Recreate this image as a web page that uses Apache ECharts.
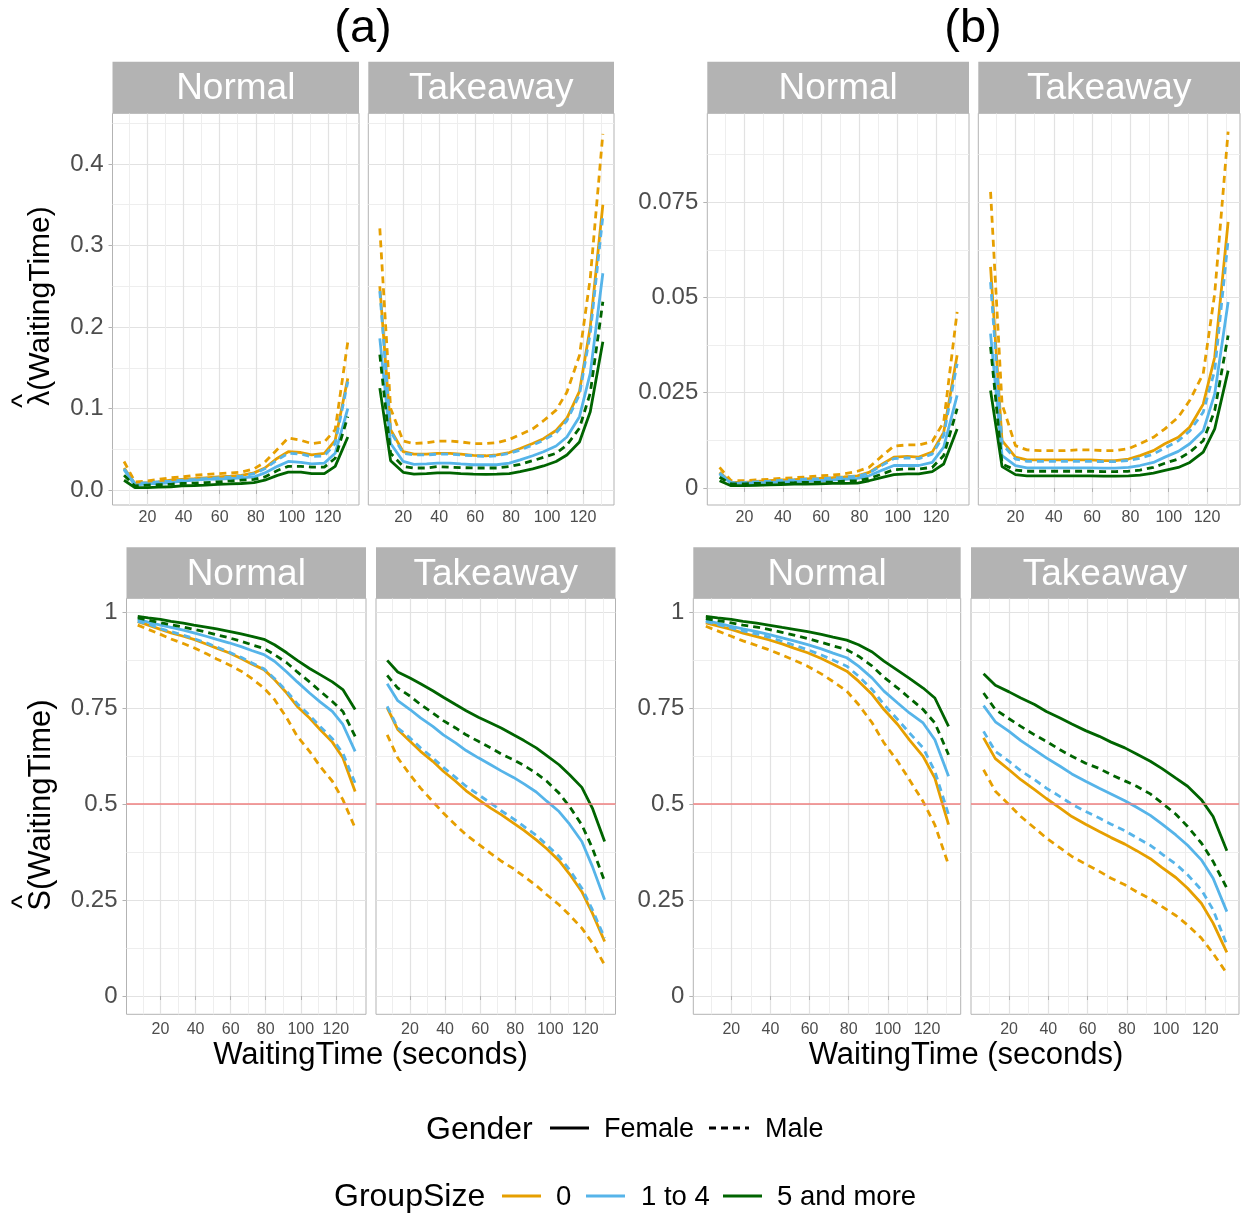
<!DOCTYPE html>
<html>
<head>
<meta charset="utf-8">
<script src="https://cdn.jsdelivr.net/npm/echarts@6/dist/echarts.min.js"></script>
<style>
  html, body { margin: 0; padding: 0; background: #ffffff; }
  #chart { width: 1245px; height: 1218px; }
</style>
</head>
<body>
<div id="chart"></div>
<script>
// ---- data ----------------------------------------------------------------
const waitingTime = [7, 13, 20, 26, 33, 39, 46, 52, 59, 66, 72, 79, 85, 92, 98, 105, 111, 118, 124, 131];
const groupSizes = ['0', '1 to 4', '5 and more'];
const genders = ['Female', 'Male'];
const facetLabels = ['Normal', 'Takeaway'];

const xTicks = [20, 40, 60, 80, 100, 120];
const xMinorTicks = [10, 30, 50, 70, 90, 110, 130];
const hazardTicksA = [0, 0.1, 0.2, 0.3, 0.4];
const hazardMinorA = [0.05, 0.15, 0.25, 0.35, 0.45];
const hazardTicksB = [0, 0.025, 0.05, 0.075];
const hazardMinorB = [0.0125, 0.0375, 0.0625, 0.0875];
const survivalTicks = [0, 0.25, 0.5, 0.75, 1];
const survivalMinor = [0.125, 0.375, 0.625, 0.875];
const medianLevel = 0.5;

// Row order in every panel: [0 Female, 0 Male, 1 to 4 Female, 1 to 4 Male, 5+ Female, 5+ Male]
const hazardA_Normal = [
  [.027, .008, .009, .010, .012, .013, .014, .015, .016, .017, .018, .021, .027, .039, .047, .046, .043, .045, .061, .137],
  [.035, .010, .011, .013, .015, .016, .018, .019, .020, .021, .022, .026, .034, .050, .064, .061, .057, .059, .074, .182],
  [.025, .006, .0074, .008, .009, .011, .012, .013, .0135, .014, .015, .016, .021, .029, .035, .034, .032, .033, .045, .100],
  [.026, .008, .009, .010, .011, .012, .013, .014, .015, .016, .017, .020, .026, .037, .045, .044, .041, .042, .057, .133],
  [.012, .003, .003, .0035, .004, .005, .0055, .006, .007, .0075, .008, .009, .012, .018, .022, .022, .020, .020, .029, .065],
  [.018, .005, .006, .0065, .007, .008, .0085, .009, .010, .011, .012, .013, .016, .024, .029, .029, .028, .028, .039, .090]
];
const hazardA_Takeaway = [
  [.250, .074, .047, .044, .044, .045, .045, .044, .0425, .042, .043, .046, .051, .057, .063, .073, .088, .121, .200, .350],
  [.321, .100, .060, .057, .058, .060, .060, .059, .057, .057, .058, .062, .068, .075, .085, .098, .120, .165, .260, .437],
  [.186, .057, .035, .0315, .032, .033, .033, .032, .031, .031, .031, .033, .037, .042, .047, .054, .065, .090, .143, .266],
  [.244, .072, .045, .043, .043, .044, .044, .043, .042, .041, .042, .045, .049, .055, .061, .070, .085, .117, .192, .336],
  [.125, .036, .0217, .0196, .020, .021, .021, .020, .0195, .0192, .0195, .020, .0225, .026, .0295, .035, .043, .059, .096, .182],
  [.166, .045, .029, .027, .027, .0287, .028, .0275, .027, .027, .027, .0287, .0315, .036, .040, .045, .055, .076, .119, .231]
];
const survivalA_Normal = [
  [.976, .967, .956, .947, .938, .930, .918, .907, .895, .880, .866, .851, .825, .790, .755, .725, .695, .662, .621, .533],
  [.967, .956, .943, .931, .919, .908, .893, .879, .864, .847, .828, .803, .773, .725, .677, .638, .599, .560, .512, .438],
  [.982, .975, .967, .961, .954, .947, .938, .930, .921, .911, .901, .890, .873, .845, .819, .790, .767, .742, .708, .638],
  [.977, .970, .958, .950, .941, .932, .921, .910, .897, .883, .869, .853, .828, .795, .762, .732, .703, .671, .633, .555],
  [.990, .986, .982, .977, .972, .967, .962, .957, .951, .944, .938, .930, .916, .895, .875, .854, .838, .819, .799, .747],
  [.986, .980, .973, .968, .962, .956, .949, .942, .934, .925, .916, .906, .890, .869, .845, .819, .795, .768, .742, .677]
];
const survivalA_Takeaway = [
  [.751, .695, .664, .638, .612, .586, .560, .535, .512, .490, .473, .451, .432, .407, .384, .353, .318, .272, .216, .142],
  [.681, .621, .577, .542, .507, .477, .446, .420, .396, .372, .352, .332, .312, .288, .264, .238, .211, .177, .138, .081],
  [.814, .770, .747, .725, .703, .681, .660, .640, .621, .603, .587, .570, .553, .532, .508, .481, .448, .403, .338, .251],
  [.755, .699, .673, .647, .621, .596, .570, .547, .525, .503, .483, .462, .442, .419, .394, .364, .329, .281, .225, .151],
  [.875, .845, .829, .814, .796, .779, .760, .744, .727, .712, .699, .681, .666, .647, .627, .603, .577, .544, .490, .403],
  [.836, .803, .782, .760, .738, .718, .699, .681, .664, .647, .631, .616, .601, .581, .560, .529, .494, .446, .386, .299]
];
const hazardB_Normal = [
  [.0041, .0015, .0015, .0017, .0019, .0021, .0022, .0024, .0025, .0027, .0029, .0032, .0041, .0063, .0081, .0083, .0081, .0094, .0146, .0348],
  [.0054, .0019, .0019, .0021, .0023, .0025, .0027, .0029, .0032, .0034, .0037, .0044, .0054, .0085, .0110, .0113, .0113, .0122, .0173, .0462],
  [.0037, .0013, .0013, .0014, .0015, .0016, .0017, .0018, .0019, .0021, .0023, .0025, .0032, .0047, .0059, .0059, .0059, .0067, .0107, .0243],
  [.0039, .0014, .0014, .0016, .0018, .0020, .0021, .0023, .0024, .0026, .0028, .0031, .0039, .0060, .0077, .0079, .0077, .0089, .0138, .0326],
  [.0019, .0006, .0006, .0007, .0008, .0009, .0010, .0010, .0011, .0012, .0012, .0013, .0019, .0028, .0035, .0037, .0037, .0043, .0063, .0155],
  [.0028, .0011, .0011, .0012, .0013, .0013, .0014, .0015, .0015, .0016, .0018, .0019, .0025, .0037, .0048, .0050, .0050, .0054, .0085, .0208]
];
const hazardB_Takeaway = [
  [.0580, .0124, .0081, .0074, .0074, .0074, .0074, .0074, .0074, .0072, .0072, .0076, .0085, .0098, .0116, .0133, .0160, .0220, .0343, .0698],
  [.0777, .0220, .0111, .0100, .0098, .0098, .0098, .0100, .0100, .0098, .0098, .0103, .0116, .0133, .0155, .0186, .0230, .0300, .0510, .0935],
  [.0405, .0085, .0059, .0053, .0053, .0053, .0053, .0053, .0053, .0052, .0052, .0054, .0059, .0067, .0081, .0096, .0116, .0150, .0247, .0488],
  [.0540, .0116, .0076, .0070, .0070, .0070, .0070, .0070, .0070, .0069, .0069, .0072, .0078, .0089, .0105, .0124, .0150, .0199, .0308, .0650],
  [.0256, .0056, .0035, .0032, .0032, .0032, .0032, .0032, .0032, .0031, .0031, .0032, .0034, .0039, .0046, .0054, .0067, .0094, .0155, .0308],
  [.0370, .0063, .0047, .0044, .0044, .0044, .0044, .0044, .0044, .0043, .0043, .0044, .0047, .0054, .0065, .0076, .0094, .0124, .0203, .0400]
];
const survivalB_Normal = [
  [.973, .965, .956, .946, .937, .929, .918, .907, .895, .880, .865, .847, .821, .786, .747, .708, .668, .625, .568, .447],
  [.964, .952, .938, .926, .914, .903, .889, .876, .860, .840, .820, .795, .760, .712, .660, .612, .564, .507, .446, .342],
  [.979, .972, .964, .957, .950, .943, .934, .926, .916, .905, .894, .882, .860, .829, .795, .764, .738, .712, .668, .573],
  [.976, .969, .960, .952, .944, .936, .925, .915, .903, .889, .876, .860, .834, .799, .760, .721, .686, .647, .586, .473],
  [.990, .986, .982, .977, .972, .967, .961, .956, .950, .943, .936, .928, .916, .897, .873, .849, .828, .803, .777, .703],
  [.984, .979, .973, .967, .962, .956, .948, .941, .932, .922, .913, .903, .886, .860, .831, .803, .777, .747, .712, .629]
];
const survivalB_Takeaway = [
  [.673, .619, .590, .564, .538, .515, .490, .468, .448, .429, .413, .396, .379, .358, .335, .309, .281, .242, .190, .114],
  [.590, .534, .499, .468, .438, .412, .386, .364, .344, .325, .307, .290, .272, .253, .233, .210, .185, .151, .111, .059],
  [.757, .715, .690, .666, .642, .621, .599, .579, .560, .542, .527, .509, .492, .471, .448, .420, .393, .355, .307, .220],
  [.690, .638, .612, .587, .564, .542, .520, .500, .481, .464, .448, .431, .413, .393, .370, .344, .316, .277, .225, .133],
  [.840, .810, .793, .777, .760, .742, .725, .709, .692, .677, .662, .647, .631, .612, .593, .568, .547, .512, .468, .379],
  [.790, .747, .723, .703, .681, .664, .642, .625, .607, .593, .577, .561, .547, .527, .503, .474, .442, .399, .351, .281]
];

// ---- styling ---------------------------------------------------------------
const FONT = '"Liberation Sans", Arial, Helvetica, sans-serif';
const groupColors = { '0': '#E69F00', '1 to 4': '#56B4E9', '5 and more': '#006400' };
const genderDash = { 'Female': 'solid', 'Male': [7, 5] };
const STRIP_FILL = '#B3B3B3';
const BORDER = '#B3B3B3';
const GRID_MAJOR = '#E2E2E2';
const GRID_MINOR = '#EEEEEE';
const TICK_TEXT = '#4D4D4D';
const LINE_W = 2.8;
const X_MIN = 0.6, X_MAX = 137.2;

const rowKeys = [];
groupSizes.forEach(g => genders.forEach(s => rowKeys.push([g, s])));

const panels = [
  { data: hazardA_Normal,     box: [112.5, 113.3, 246.5, 391.7], y: [-0.0184, 0.4622], ticks: hazardTicksA, minor: hazardMinorA, fmt: v => v.toFixed(1), showY: true,  facet: 0, xMargin: 5, hline: false },
  { data: hazardA_Takeaway,   box: [368.3, 113.3, 245.7, 391.7], y: [-0.0184, 0.4622], ticks: hazardTicksA, minor: hazardMinorA, fmt: v => v.toFixed(1), showY: false, facet: 1, xMargin: 5, hline: false },
  { data: survivalA_Normal,   box: [126.5, 598.3, 239.5, 416.0], y: [-0.0477, 1.037],  ticks: survivalTicks, minor: survivalMinor, fmt: v => String(v), showY: true,  facet: 0, xMargin: 7, hline: true },
  { data: survivalA_Takeaway, box: [376.0, 598.3, 239.5, 416.0], y: [-0.0477, 1.037],  ticks: survivalTicks, minor: survivalMinor, fmt: v => String(v), showY: false, facet: 1, xMargin: 7, hline: true },
  { data: hazardB_Normal,     box: [707.3, 113.3, 261.7, 391.7], y: [-0.00446, 0.0983], ticks: hazardTicksB, minor: hazardMinorB, fmt: v => String(v), showY: true,  facet: 0, xMargin: 5, hline: false },
  { data: hazardB_Takeaway,   box: [978.3, 113.3, 261.7, 391.7], y: [-0.00446, 0.0983], ticks: hazardTicksB, minor: hazardMinorB, fmt: v => String(v), showY: false, facet: 1, xMargin: 5, hline: false },
  { data: survivalB_Normal,   box: [693.3, 598.3, 267.4, 416.0], y: [-0.0477, 1.037],  ticks: survivalTicks, minor: survivalMinor, fmt: v => String(v), showY: true,  facet: 0, xMargin: 7, hline: true },
  { data: survivalB_Takeaway, box: [971.0, 598.3, 268.0, 416.0], y: [-0.0477, 1.037],  ticks: survivalTicks, minor: survivalMinor, fmt: v => String(v), showY: false, facet: 1, xMargin: 7, hline: true }
];

const grid = [], xAxis = [], yAxis = [], series = [], graphic = [];

panels.forEach((p, gi) => {
  const [left, top, width, height] = p.box;
  grid.push({
    left, top, width, height, show: true,
    backgroundColor: '#ffffff', borderColor: BORDER, borderWidth: 1,
    containLabel: false, outerBoundsMode: 'none'
  });
  // major x axis with labels, minor x axis only for grid lines
  xAxis.push({
    gridIndex: gi, type: 'value', min: X_MIN, max: X_MAX, position: 'bottom',
    axisLine: { show: false },
    axisTick: { show: true, length: 4, lineStyle: { color: BORDER, width: 1 }, customValues: xTicks },
    axisLabel: { show: true, customValues: xTicks, fontSize: 16, fontFamily: FONT, color: TICK_TEXT, margin: p.xMargin },
    splitLine: { show: true, lineStyle: { color: GRID_MAJOR, width: 1.2 } }
  });
  xAxis.push({
    gridIndex: gi, type: 'value', min: X_MIN, max: X_MAX, position: 'top',
    axisLine: { show: false },
    axisTick: { show: false, customValues: xMinorTicks },
    axisLabel: { show: false, customValues: xMinorTicks },
    splitLine: { show: true, lineStyle: { color: GRID_MINOR, width: 1 } }
  });
  yAxis.push({
    gridIndex: gi, type: 'value', min: p.y[0], max: p.y[1], position: 'left',
    axisLine: { show: false },
    axisTick: { show: p.showY, length: 4, lineStyle: { color: BORDER, width: 1 }, customValues: p.ticks },
    axisLabel: { show: p.showY, customValues: p.ticks, formatter: p.fmt, fontSize: 24, fontFamily: FONT, color: TICK_TEXT, margin: 9 },
    splitLine: { show: true, lineStyle: { color: GRID_MAJOR, width: 1.2 } }
  });
  yAxis.push({
    gridIndex: gi, type: 'value', min: p.y[0], max: p.y[1], position: 'right',
    axisLine: { show: false },
    axisTick: { show: false, customValues: p.minor },
    axisLabel: { show: false, customValues: p.minor },
    splitLine: { show: true, lineStyle: { color: GRID_MINOR, width: 1 } }
  });

  p.data.forEach((vals, ri) => {
    const [group, gender] = rowKeys[ri];
    const s = {
      type: 'line', name: group + ' / ' + gender,
      xAxisIndex: gi * 2, yAxisIndex: gi * 2,
      data: waitingTime.map((t, i) => [t, vals[i]]),
      showSymbol: false, symbol: 'none', silent: true, animation: false,
      lineStyle: { color: groupColors[group], width: LINE_W, type: genderDash[gender], cap: 'butt' },
      z: 3
    };
    if (p.hline && ri === 0) {
      s.markLine = {
        silent: true, symbol: ['none', 'none'], animation: false,
        label: { show: false },
        lineStyle: { color: '#EF7F7F', width: 1.5, type: 'solid' },
        data: [{ yAxis: medianLevel }]
      };
    }
    series.push(s);
  });

  // facet strip
  const stripTop = top < 300 ? 61.7 : 547.3;
  const stripH = top - stripTop;
  graphic.push({
    type: 'rect', shape: { x: left, y: stripTop, width: width, height: stripH },
    style: { fill: STRIP_FILL }, silent: true, z: 10
  });
  graphic.push({
    type: 'text', x: left + width / 2, y: stripTop + stripH / 2 + 1.5, silent: true, z: 11,
    style: { text: facetLabels[p.facet], fontSize: 37, fontFamily: FONT, fill: '#ffffff', align: 'center', verticalAlign: 'middle' }
  });
});

// panel titles
[['(a)', 363], ['(b)', 973]].forEach(([t, x]) => {
  graphic.push({ type: 'text', x, y: 29, silent: true, z: 11,
    style: { text: t, fontSize: 47, fontFamily: FONT, fill: '#000000', align: 'center', verticalAlign: 'middle' } });
});

// axis titles
[370.5, 966].forEach(x => {
  graphic.push({ type: 'text', x, y: 1055, silent: true, z: 11,
    style: { text: 'WaitingTime (seconds)', fontSize: 31, fontFamily: FONT, fill: '#000000', align: 'center', verticalAlign: 'middle' } });
});
[['λ(WaitingTime)', 306, 401, 30], ['S(WaitingTime)', 805, 902, 31]].forEach(([t, yc, yHat, fs]) => {
  graphic.push({ type: 'text', x: 41, y: yc, rotation: Math.PI / 2, silent: true, z: 11,
    style: { text: t, fontSize: fs, fontFamily: FONT, fill: '#000000', align: 'center', verticalAlign: 'middle' } });
  graphic.push({ type: 'text', x: 24, y: yHat, rotation: Math.PI / 2, silent: true, z: 11,
    style: { text: '^', fontSize: 30, fontFamily: FONT, fill: '#000000', align: 'center', verticalAlign: 'middle' } });
});

// legend
function legendText(t, x, y, size) {
  graphic.push({ type: 'text', x, y, silent: true, z: 11,
    style: { text: t, fontSize: size, fontFamily: FONT, fill: '#000000', align: 'left', verticalAlign: 'middle' } });
}
function legendLine(x1, x2, y, color, dash) {
  graphic.push({ type: 'line', silent: true, z: 11,
    shape: { x1, y1: y, x2, y2: y },
    style: { stroke: color, lineWidth: LINE_W, lineDash: dash === 'solid' ? null : dash } });
}
legendText('Gender', 426, 1130, 32);
legendLine(550, 589, 1128, '#000000', genderDash['Female']);
legendText(genders[0], 604, 1130, 27);
legendLine(709, 749, 1128, '#000000', genderDash['Male']);
legendText(genders[1], 765, 1130, 27);

legendText('GroupSize', 334, 1197, 32);
const groupLegendX = [[502, 541, 556], [586, 625, 641], [723, 762, 777]];
groupSizes.forEach((g, i) => {
  const [a, b, tx] = groupLegendX[i];
  legendLine(a, b, 1196, groupColors[g], 'solid');
  legendText(g, tx, 1197, 27.5);
});

const chart = echarts.init(document.getElementById('chart'), null, { renderer: 'canvas' });
chart.setOption({
  animation: false,
  backgroundColor: '#ffffff',
  grid, xAxis, yAxis, series, graphic
});
</script>
</body>
</html>
